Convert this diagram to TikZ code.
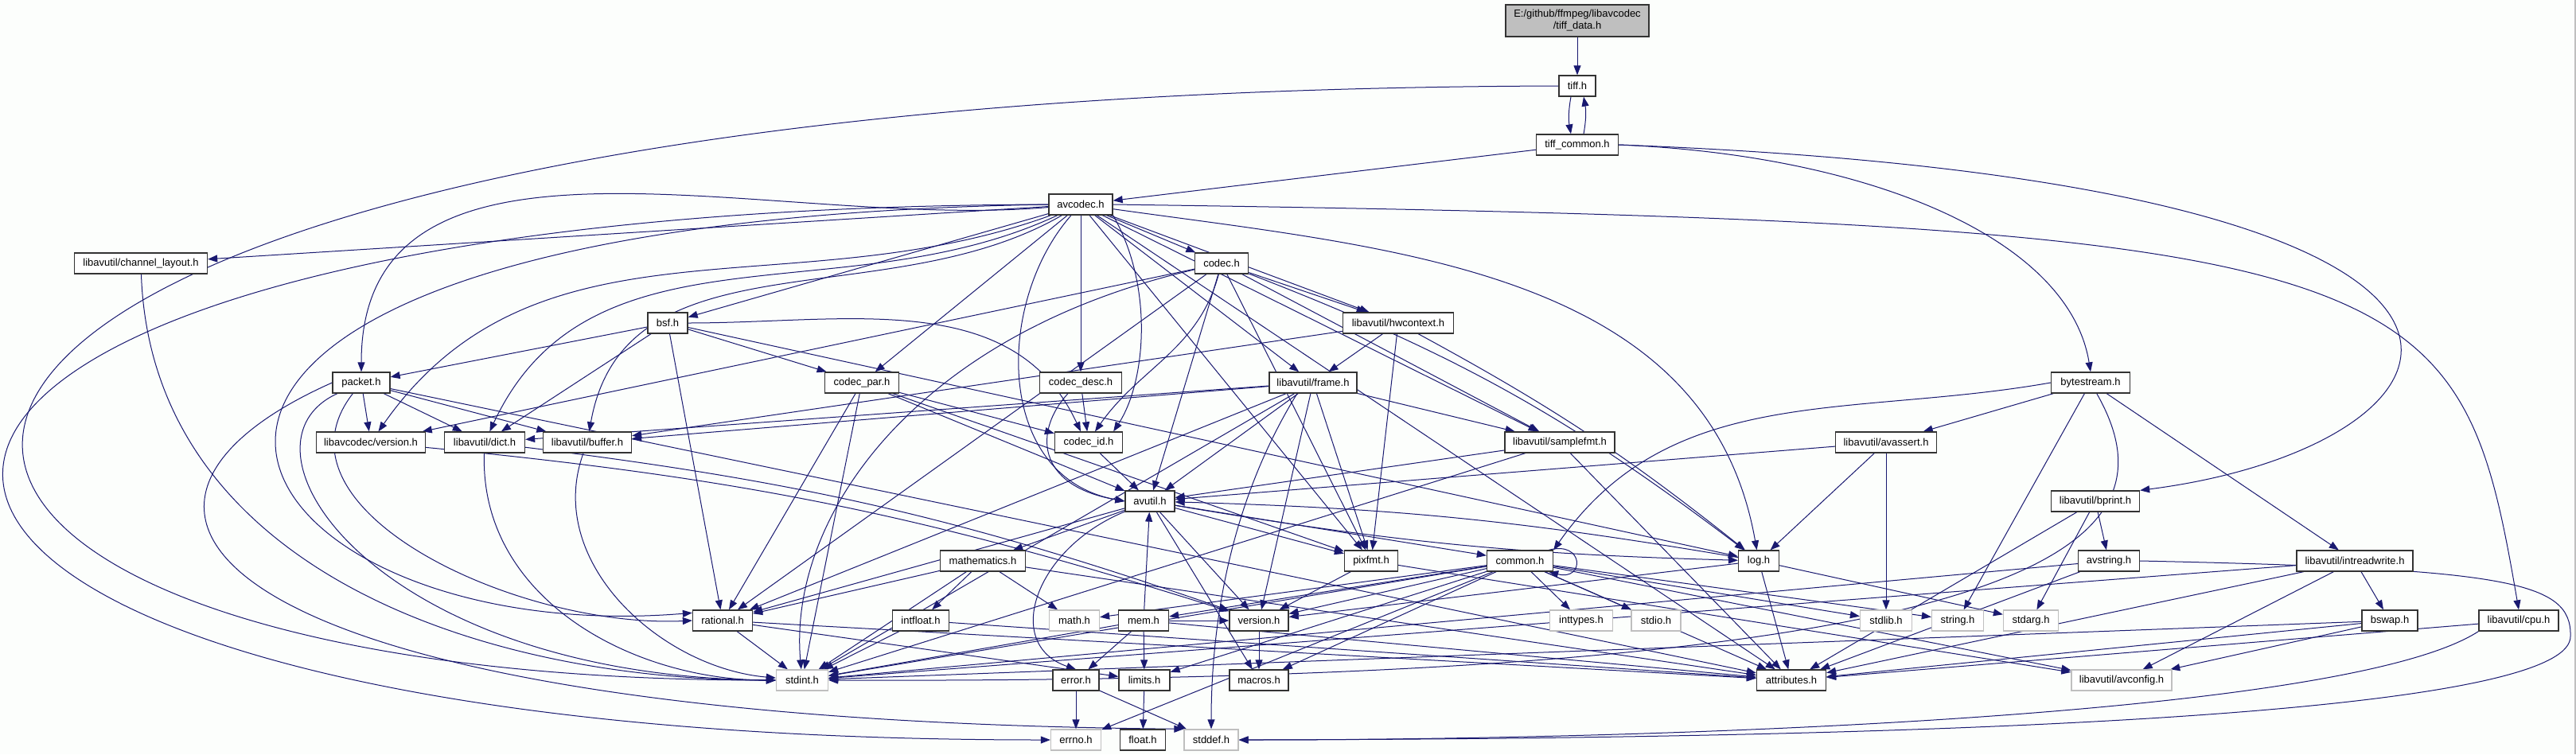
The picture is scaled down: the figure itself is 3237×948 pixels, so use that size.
\documentclass[tikz,border=0pt]{standalone}
\usepackage{fontspec}
\setmainfont{Liberation Sans}
\usetikzlibrary{arrows.meta,backgrounds}
\definecolor{inclblue}{RGB}{25,25,112}
\definecolor{sysgray}{RGB}{191,191,191}
\definecolor{pagebg}{RGB}{252,254,252}
\tikzset{
  hfile/.style={rectangle, draw=black!80, fill=white, line width=1.3pt,
                minimum height=26pt, inner sep=0pt, font=\fontsize{13}{15}\selectfont},
  sysfile/.style={hfile, draw=sysgray},
  rootfile/.style={hfile, fill=sysgray, minimum height=40pt, align=center},
  incl/.style={-{Triangle[length=12pt,width=9pt]}, line width=1pt, inclblue},
}

\begin{document}
\begin{tikzpicture}[x=1pt, y=1pt]
  \useasboundingbox (0,0) rectangle (3237,-948);
  % files, row by row
  \node[rootfile, minimum width=180pt] (tiffdata) at (1982,-26) {E:/github/ffmpeg/libavcodec\\/tiff\_data.h};
  \node[hfile, minimum width=46pt]  (tiff)        at (1982,-108) {tiff.h};
  \node[hfile, minimum width=103pt] (tiffcommon)  at (1982,-182) {tiff\_common.h};
  \node[hfile, minimum width=80pt]  (avcodec)     at (1358,-257) {avcodec.h};
  \node[hfile, minimum width=167pt] (chlayout)    at (177,-331)  {libavutil/channel\_layout.h};
  \node[hfile, minimum width=67pt]  (codec)       at (1535,-331) {codec.h};
  \node[hfile, minimum width=50pt]  (bsf)         at (839,-406)  {bsf.h};
  \node[hfile, minimum width=139pt] (hwcontext)   at (1757,-406) {libavutil/hwcontext.h};
  \node[hfile, minimum width=72pt]  (packet)      at (454,-481)  {packet.h};
  \node[hfile, minimum width=93pt]  (codecpar)    at (1083,-481) {codec\_par.h};
  \node[hfile, minimum width=103pt] (codecdesc)   at (1358,-481) {codec\_desc.h};
  \node[hfile, minimum width=110pt] (frame)       at (1650,-481) {libavutil/frame.h};
  \node[hfile, minimum width=99pt]  (bytestream)  at (2627,-481) {bytestream.h};
  \node[hfile, minimum width=137pt] (lavcversion) at (466,-556)  {libavcodec/version.h};
  \node[hfile, minimum width=101pt] (dict)        at (609,-556)  {libavutil/dict.h};
  \node[hfile, minimum width=111pt] (buffer)      at (738,-556)  {libavutil/buffer.h};
  \node[hfile, minimum width=85pt]  (codecid)     at (1368,-556) {codec\_id.h};
  \node[hfile, minimum width=138pt] (samplefmt)   at (1960,-556) {libavutil/samplefmt.h};
  \node[hfile, minimum width=127pt] (avassert)    at (2370,-556) {libavutil/avassert.h};
  \node[hfile, minimum width=62pt]  (avutil)      at (1445,-630) {avutil.h};
  \node[hfile, minimum width=111pt] (bprint)      at (2633,-630) {libavutil/bprint.h};
  \node[hfile, minimum width=107pt] (mathematics) at (1235,-705) {mathematics.h};
  \node[hfile, minimum width=67pt]  (pixfmt)      at (1723,-705) {pixfmt.h};
  \node[hfile, minimum width=83pt]  (common)      at (1910,-705) {common.h};
  \node[hfile, minimum width=51pt]  (log)         at (2210,-705) {log.h};
  \node[hfile, minimum width=77pt]  (avstring)    at (2650,-705) {avstring.h};
  \node[hfile, minimum width=146pt] (intreadwrite) at (2959,-705) {libavutil/intreadwrite.h};
  \node[hfile, minimum width=75pt]  (rational)    at (908,-780)  {rational.h};
  \node[hfile, minimum width=71pt]  (intfloat)    at (1157,-780) {intfloat.h};
  \node[sysfile, minimum width=63pt] (math)       at (1350,-780) {math.h};
  \node[hfile, minimum width=63pt]  (mem)         at (1437,-780) {mem.h};
  \node[hfile, minimum width=74pt]  (version)     at (1582,-780) {version.h};
  \node[sysfile, minimum width=79pt] (inttypes)   at (1987,-780) {inttypes.h};
  \node[sysfile, minimum width=62pt] (stdio)      at (2081,-780) {stdio.h};
  \node[sysfile, minimum width=65pt] (stdlib)     at (2370,-780) {stdlib.h};
  \node[sysfile, minimum width=65pt] (string)     at (2460,-780) {string.h};
  \node[sysfile, minimum width=69pt] (stdarg)     at (2552,-780) {stdarg.h};
  \node[hfile, minimum width=70pt]  (bswap)       at (3003,-780) {bswap.h};
  \node[hfile, minimum width=100pt] (cpu)         at (3165,-780) {libavutil/cpu.h};
  \node[sysfile, minimum width=65pt] (stdint)     at (1008,-855) {stdint.h};
  \node[hfile, minimum width=58pt]  (error)       at (1352,-855) {error.h};
  \node[hfile, minimum width=64pt]  (limits)      at (1438,-855) {limits.h};
  \node[hfile, minimum width=74pt]  (macros)      at (1582,-855) {macros.h};
  \node[hfile, minimum width=87pt]  (attributes)  at (2251,-855) {attributes.h};
  \node[sysfile, minimum width=126pt] (avconfig)  at (2666,-855) {libavutil/avconfig.h};
  \node[sysfile, minimum width=63pt] (errno)      at (1352,-930) {errno.h};
  \node[hfile, minimum width=57pt]  (float)       at (1436,-930) {float.h};
  \node[sysfile, minimum width=68pt] (stddef)     at (1522,-930) {stddef.h};

  \begin{scope}[on background layer]
    \fill[pagebg] (0,0) rectangle (3237,-948);
    \draw[sysgray, line width=1.5pt] (3236,0) -- (3236,-948);
    % tiff files
    \draw[incl] (tiffdata) -- (tiff);
    \draw[incl] ([xshift=-8pt]tiff.south) to[bend right=10] ([xshift=-8pt]tiffcommon.north);
    \draw[incl] ([xshift=8pt]tiffcommon.north) to[bend right=10] ([xshift=8pt]tiff.south);
    \draw[incl] (tiff.west) .. controls (-416,-115) and (-416,-855) .. (stdint.west);
    \draw[incl] (tiffcommon) -- (avcodec);
    \draw[incl] (tiffcommon.east) .. controls (2350,-195) and (2600,-300) .. (bytestream.north);
    \draw[incl] (tiffcommon.east) .. controls (3300,-230) and (3130,-560) .. (bprint.north east);
    % avcodec.h
    \foreach \dst in {chlayout,bsf,codecpar,codecdesc,codec,hwcontext,frame,samplefmt,pixfmt,attributes}
      \draw[incl] (avcodec) -- (\dst);
    \draw[incl] (avcodec.west) .. controls (-433,-262) and (-433,-930) .. (errno.west);
    \draw[incl] (avcodec) to[out=185,in=90] (packet);
    \draw[incl] (avcodec.west) .. controls (-60,-280) and (260,-820) .. ([yshift=-4pt]rational.north west);
    \draw[incl] (avcodec) to[out=200,in=55] (lavcversion);
    \draw[incl] (avcodec) to[out=205,in=65] (dict);
    \draw[incl] (avcodec) to[out=210,in=80] (buffer);
    \draw[incl] (avcodec.south east) .. controls (1450,-360) and (1440,-480) .. ([xshift=-12pt]codecid.north east);
    \draw[incl] ([xshift=-12pt]avcodec.south) .. controls (1250,-380) and (1250,-600) .. (avutil.west);
    \draw[incl] (avcodec) to[out=-8,in=100] (log);
    \draw[incl] (avcodec.east) .. controls (3050,-280) and (3090,-330) .. (cpu.north);
    % codec.h
    \foreach \dst in {hwcontext,pixfmt,avutil,rational,samplefmt,lavcversion}
      \draw[incl] (codec) -- (\dst);
    \draw[incl] (codec) .. controls (1150,-420) and (990,-650) .. (stdint);
    \draw[incl] (codec) to[bend left=8] (log);
    \draw[incl] (codec) to[out=-105,in=55] ([xshift=8pt]codecid.north);
    % bsf.h
    \foreach \dst in {packet,dict,rational,codecpar,log}
      \draw[incl] (bsf) -- (\dst);
    \draw[incl] (bsf.east) to[out=0,in=115] ([xshift=-10pt]codecid.north);
    % codec_desc.h, codec_id.h, codec_par.h
    \draw[incl] (codecdesc) -- (codecid);
    \draw[incl] ([xshift=-16pt]codecdesc.south) .. controls (1300,-540) and (1300,-610) .. (avutil.west);
    \draw[incl] (codecid) -- (avutil);
    \foreach \dst in {stdint,avutil,rational,pixfmt,codecid}
      \draw[incl] (codecpar) -- (\dst);
    % packet.h
    \foreach \dst in {dict,buffer,lavcversion,attributes}
      \draw[incl] (packet) -- (\dst);
    \draw[incl] (packet) .. controls (330,-640) and (650,-790) .. (rational.west);
    \draw[incl] (packet) .. controls (280,-560) and (470,-850) .. (stdint.west);
    \draw[incl] (packet.west) .. controls (60,-640) and (250,-905) .. (stddef.north west);
    % version.h, dict.h, buffer.h, channel_layout.h
    \draw[incl] (lavcversion) to[bend left=6] (version);
    \draw[incl] (dict) to[bend left=6] (version);
    \draw[incl] (dict) to[out=-92,in=180] (stdint);
    \draw[incl] (buffer) to[out=-110,in=175] (stdint);
    \draw[incl] (chlayout) to[out=-88,in=180] (stdint);
    % hwcontext.h, frame.h, samplefmt.h
    \foreach \dst in {buffer,frame,pixfmt}
      \draw[incl] (hwcontext) -- (\dst);
    \draw[incl] (hwcontext) to[bend left=5] (log);
    \foreach \dst in {stdint,avutil,buffer,dict,rational,samplefmt,pixfmt,version}
      \draw[incl] (frame) -- (\dst);
    \draw[incl] ([xshift=-20pt]frame.south) .. controls (1540,-640) and (1522,-800) .. (stddef.north);
    \foreach \dst in {stdint,avutil,attributes}
      \draw[incl] (samplefmt) -- (\dst);
    % bytestream.h, avassert.h, bprint.h
    \foreach \dst in {string,avassert,intreadwrite}
      \draw[incl] (bytestream) -- (\dst);
    \draw[incl] (bytestream) .. controls (2740,-680) and (2600,-860) .. (stdint.east);
    \draw[incl] (bytestream.west) to[out=190,in=55] (common.north east);
    \foreach \dst in {stdlib,avutil,log}
      \draw[incl] (avassert) -- (\dst);
    \foreach \dst in {stdarg,attributes,avstring}
      \draw[incl] (bprint) -- (\dst);
    % avutil.h
    \foreach \dst in {common,rational,version,macros,mathematics,pixfmt}
      \draw[incl] (avutil) -- (\dst);
    \draw[incl] (avutil) .. controls (1300,-690) and (1260,-810) .. (error.north);
    \draw[incl] (avutil) to[bend right=4] (log);
    \draw[incl] (log) to[bend right=4] (avutil);
    % mathematics.h, pixfmt.h, common.h, log.h
    \foreach \dst in {stdint,math,attributes,rational,intfloat}
      \draw[incl] (mathematics) -- (\dst);
    \foreach \dst in {avconfig,version}
      \draw[incl] (pixfmt) -- (\dst);
    \foreach \dst in {errno,inttypes,limits,math,stdint,stdio,stdlib,string,attributes,macros,version,avconfig,mem}
      \draw[incl] (common) -- (\dst);
    \draw[incl] ([xshift=-6pt]common.north east) .. controls +(45,12) and +(45,-12) .. ([xshift=-6pt]common.south east);
    \foreach \dst in {stdarg,attributes,version}
      \draw[incl] (log) -- (\dst);
    % avstring.h, intreadwrite.h
    \foreach \dst in {stdint,attributes}
      \draw[incl] (avstring) -- (\dst);
    \coordinate (loopR) at (3230,-800);
    \draw[incl] (avstring.east) .. controls (3150,-715) and (3232,-730) .. (loopR)
                .. controls (3230,-880) and (2700,-928) .. (stddef.east);
    \foreach \dst in {stdint,avconfig,attributes,bswap}
      \draw[incl] (intreadwrite) -- (\dst);
    % lower rows
    \foreach \dst in {stdint,limits,attributes}
      \draw[incl] (rational) -- (\dst);
    \foreach \dst in {stdint,attributes}
      \draw[incl] (intfloat) -- (\dst);
    \foreach \dst in {limits,stdint,attributes,error,avutil,version}
      \draw[incl] (mem) -- (\dst);
    \draw[incl] (version) -- (macros);
    \foreach \dst in {stdint,avconfig,attributes}
      \draw[incl] (bswap) -- (\dst);
    \draw[incl] (cpu) -- (attributes);
    \draw[incl] (cpu.south west) .. controls (2950,-900) and (2100,-930) .. (stddef.east);
    \draw[incl] (error) -- (errno);
    \draw[incl] (error) -- (stddef);
    \draw[incl] (limits) -- (float);
  \end{scope}
\end{tikzpicture}
\end{document}
